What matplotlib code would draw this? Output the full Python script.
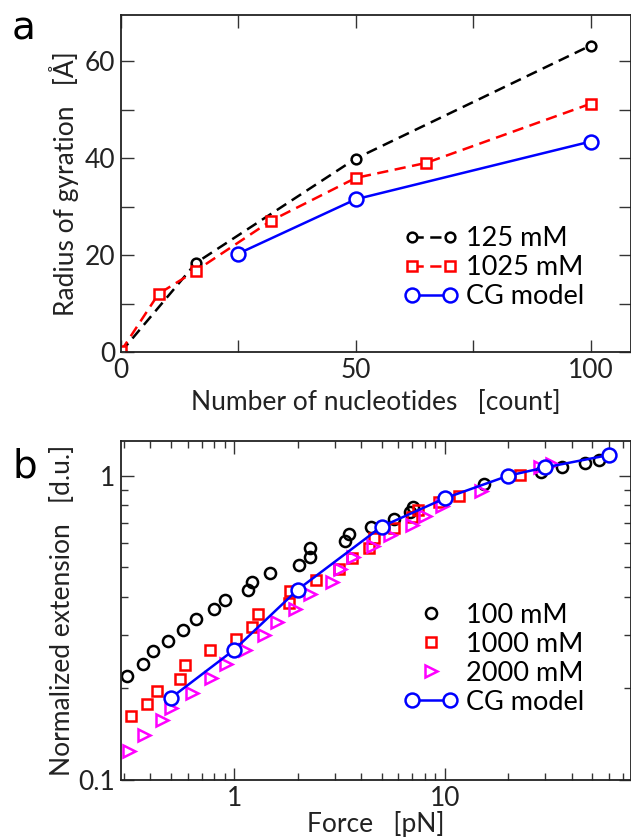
import matplotlib
matplotlib.use("Agg")
import matplotlib.pyplot as plt
from matplotlib.legend_handler import HandlerLine2D

plt.rcParams['font.family'] = ['Lato', 'DejaVu Sans']
plt.rcParams['mathtext.default'] = 'regular'

# panel a: radius of gyration vs chain length
n_125 = [0, 16, 50, 100]
rg_125 = [0.0, 18.4, 39.9, 63.2]
n_1025 = [0, 8, 16, 32, 50, 65, 100]
rg_1025 = [0.2, 12.0, 16.8, 27.1, 35.9, 39.0, 51.2]
n_cg = [25, 50, 100]
rg_cg = [20.3, 31.5, 43.4]

# panel b: force-extension
f_100 = [0.31, 0.369, 0.41, 0.483, 0.569, 0.658, 0.798, 0.904, 1.16, 1.22,
         1.48, 2.02, 2.30, 2.30, 3.36, 3.50, 4.46, 5.76, 6.84, 7.09,
         15.3, 28.7, 36.1, 46.0, 54.0]
ext_100 = [0.219, 0.240, 0.265, 0.286, 0.312, 0.337, 0.365, 0.391, 0.420, 0.447,
           0.478, 0.509, 0.540, 0.578, 0.609, 0.644, 0.677, 0.718, 0.758, 0.787,
           0.940, 1.026, 1.065, 1.098, 1.126]
f_1000 = [0.325, 0.386, 0.432, 0.551, 0.584, 0.767, 1.02, 1.21, 1.30, 1.81,
          1.83, 2.44, 3.15, 3.61, 4.38, 4.62, 5.76, 6.94, 7.44, 9.36,
          11.7, 22.6]
ext_1000 = [0.162, 0.178, 0.196, 0.215, 0.239, 0.267, 0.291, 0.318, 0.350, 0.381,
            0.418, 0.453, 0.494, 0.536, 0.578, 0.625, 0.672, 0.730, 0.771, 0.818,
            0.860, 1.005]
f_2000 = [0.316, 0.371, 0.456, 0.50, 0.629, 0.774, 0.916, 1.13, 1.39, 1.60,
          1.94, 2.28, 2.91, 3.18, 3.68, 4.58, 5.51, 6.94, 8.02, 9.65,
          14.9, 28.2, 32.2]
ext_2000 = [0.125, 0.141, 0.157, 0.173, 0.193, 0.217, 0.241, 0.267, 0.299, 0.330,
            0.365, 0.409, 0.447, 0.494, 0.540, 0.589, 0.636, 0.691, 0.739, 0.793,
            0.893, 1.065, 1.092]
f_cg = [0.5, 1, 2, 5, 10, 20, 30, 60]
ext_cg = [0.186, 0.268, 0.422, 0.680, 0.843, 1.0, 1.065, 1.169]

W, H = 631, 839
fig = plt.figure(figsize=(W / 100, H / 100), dpi=100)

def box(l, t, r, b):
    return [l / W, 1 - b / H, (r - l) / W, (b - t) / H]

def style(ax):
    ax.tick_params(which='both', direction='in', top=True, right=True,
                   labelsize=19, colors='#333333', labelcolor='#222222')
    ax.tick_params(which='major', length=9, width=1.0, pad=4)
    ax.tick_params(which='minor', length=5, width=1.0)
    for s in ax.spines.values():
        s.set_linewidth(1.3)
        s.set_color('#222222')

leg_kw = dict(frameon=False, fontsize=19.5, handlelength=2.0, handletextpad=0.3,
              labelspacing=0.15, borderaxespad=0, loc='lower right')
dash = (0, (4.5, 2.6))

# ---- panel a ----
ax1 = fig.add_axes(box(121, 15, 630.5, 352))
ax1.plot(n_125, rg_125, color='black', ls=dash, lw=1.8,
         marker='o', ms=7, mfc='white', mec='black', mew=1.8, label='125 mM')
ax1.plot(n_1025, rg_1025, color='#ff0000', ls=dash, lw=1.8,
         marker='s', ms=6.5, mfc='white', mec='#ff0000', mew=1.8, label='1025 mM')
ax1.plot(n_cg, rg_cg, color='#0000ff', lw=1.8,
         marker='o', ms=10, mfc='white', mec='#0000ff', mew=1.8, label='CG model')
ax1.set_xlim(0, 108.5)
ax1.set_ylim(0, 69.5)
ax1.set_xticks([0, 25, 50, 75, 100])
ax1.set_xticklabels(['0', '', '50', '', '100'])
ax1.set_yticks([0, 10, 20, 30, 40, 50, 60])
ax1.set_yticklabels(['0', '', '20', '', '40', '', '60'])
style(ax1)
ax1.set_xlabel('Number of nucleotides   [count]', fontsize=19, color='#222222', labelpad=5)
ax1.set_ylabel('Radius of gyration   [Å]', fontsize=19, color='#222222', labelpad=4)
ax1.legend(bbox_to_anchor=(0.93, 0.095), numpoints=2, **leg_kw)
fig.text(12 / W, 1 - 40 / H, 'a', fontsize=28, va='baseline', family='DejaVu Sans')

# ---- panel b ----
ax2 = fig.add_axes(box(121, 441, 630.5, 780))
l100, = ax2.plot(f_100, ext_100, ls='none', marker='o', ms=8, mfc='none',
                 mec='black', mew=1.8, label='100 mM')
l1000, = ax2.plot(f_1000, ext_1000, ls='none', marker='s', ms=7.5, mfc='none',
                  mec='#ff0000', mew=1.8, label='1000 mM')
l2000, = ax2.plot(f_2000, ext_2000, ls='none', marker='>', ms=8.5, mfc='none',
                  mec='#ff00ff', mew=1.8, label='2000 mM')
lcg, = ax2.plot(f_cg, ext_cg, color='#0000ff', lw=1.8, marker='o', ms=10,
                mfc='white', mec='#0000ff', mew=1.8, label='CG model')
ax2.set_xscale('log')
ax2.set_yscale('log')
ax2.set_xlim(0.29, 76)
ax2.set_ylim(0.1, 1.3)
ax2.set_xticks([1, 10])
ax2.set_xticklabels(['1', '10'])
ax2.set_yticks([0.1, 1])
ax2.set_yticklabels(['0.1', '1'])
ax2.yaxis.set_minor_formatter(plt.NullFormatter())
ax2.xaxis.set_minor_formatter(plt.NullFormatter())
style(ax2)
ax2.set_xlabel('Force   [pN]', fontsize=19, color='#222222', labelpad=0)
ax2.set_ylabel('Normalized extension   [d.u.]', fontsize=19, color='#222222', labelpad=3)
one = HandlerLine2D(numpoints=1)
ax2.legend(handles=[l100, l1000, l2000, lcg],
           handler_map={l100: one, l1000: one, l2000: one, lcg: HandlerLine2D(numpoints=2)},
           bbox_to_anchor=(0.93, 0.16), **leg_kw)
fig.text(12 / W, 1 - 478 / H, 'b', fontsize=28, va='baseline', family='DejaVu Sans')

fig.savefig('out.png', dpi=100)
